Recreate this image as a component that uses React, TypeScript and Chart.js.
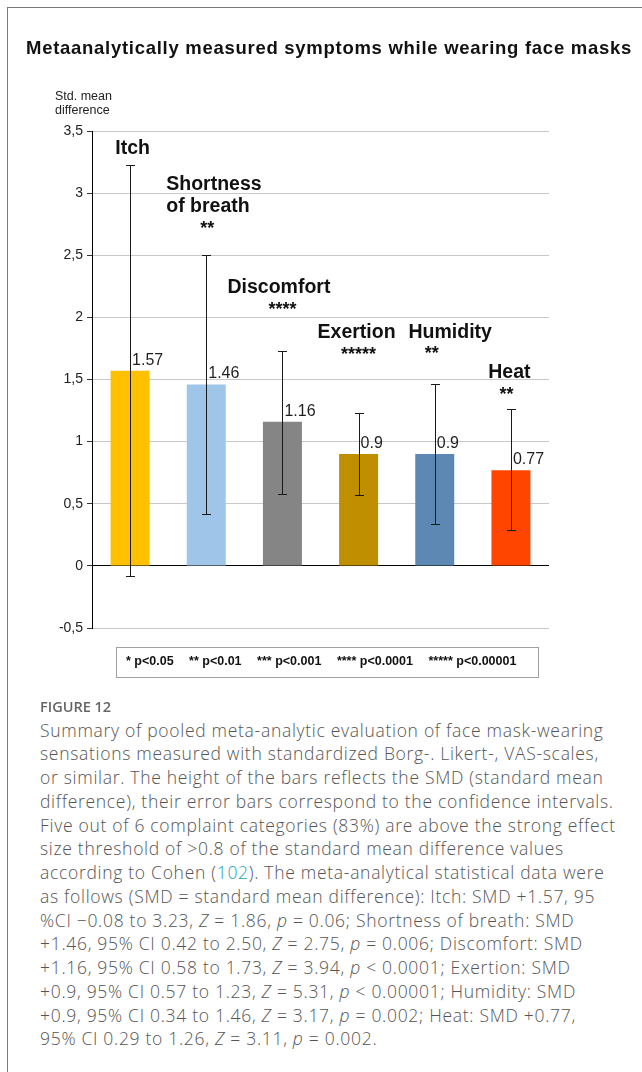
import React, { useEffect, useRef } from "react";
import { Chart, registerables } from "chart.js";

Chart.register(...registerables);

// ---------- data ----------
const categories = ["Itch", "Shortness of breath", "Discomfort", "Exertion", "Humidity", "Heat"];
const categoryLines = [["Itch"], ["Shortness", "of breath"], ["Discomfort"], ["Exertion"], ["Humidity"], ["Heat"]];
const smd = [1.57, 1.46, 1.16, 0.9, 0.9, 0.77];
const ciLow = [-0.08, 0.42, 0.58, 0.57, 0.34, 0.29];
const ciHigh = [3.23, 2.5, 1.73, 1.23, 1.46, 1.26];
const valueLabels = ["1.57", "1.46", "1.16", "0.9", "0.9", "0.77"];
const significance = ["", "**", "****", "*****", "**", "**"];
const yTickLabels = ["-0,5", "0", "0,5", "1", "1,5", "2", "2,5", "3", "3,5"];
const legendItems = ["* p<0.05", "** p<0.01", "*** p<0.001", "**** p<0.0001", "***** p<0.00001"];

// ---------- styles ----------
const barColors = ["#FFC000", "#9FC5E8", "#858585", "#BF8F00", "#5E88B4", "#FF4500"];
// annotation placement (offset from category centre in px, vertical anchor in axis units)
const nameLayout = [
  { dx: 2.5, v: 3.315, align: "center" },
  { dx: -40, v: 3.025, align: "left" },
  { dx: -3.5, v: 2.196, align: "center" },
  { dx: -2, v: 1.834, align: "center" },
  { dx: 15.5, v: 1.834, align: "center" },
  { dx: -1.5, v: 1.512, align: "center" },
];
const starLayout = [
  { dx: 0, v: 0 },
  { dx: 1, v: 2.671 },
  { dx: 0, v: 2.019 },
  { dx: 0, v: 1.657 },
  { dx: -3, v: 1.665 },
  { dx: -4.5, v: 1.336 },
];

const FONT = "'Liberation Sans', Arial, sans-serif";

const annotatePlugin = {
  id: "annotate",
  afterDatasetsDraw(chart: any) {
    const { ctx } = chart;
    const x = chart.scales.x;
    const y = chart.scales.y;
    ctx.save();
    // error bars
    ctx.strokeStyle = "#1a1a1a";
    ctx.lineWidth = 1;
    categories.forEach((_, i) => {
      const cx = Math.round(x.getPixelForValue(i)) + 0.5;
      const yl = Math.round(y.getPixelForValue(ciLow[i])) + 0.5;
      const yh = Math.round(y.getPixelForValue(ciHigh[i])) + 0.5;
      ctx.beginPath();
      ctx.moveTo(cx, yl);
      ctx.lineTo(cx, yh);
      ctx.moveTo(cx - 4.5, yh);
      ctx.lineTo(cx + 4.5, yh);
      ctx.moveTo(cx - 4.5, yl);
      ctx.lineTo(cx + 4.5, yl);
      ctx.stroke();
    });
    // value labels
    ctx.fillStyle = "#1f1f1f";
    ctx.font = `16px ${FONT}`;
    ctx.textAlign = "left";
    ctx.textBaseline = "alphabetic";
    categories.forEach((_, i) => {
      const cx = x.getPixelForValue(i);
      const top = y.getPixelForValue(smd[i]);
      ctx.fillText(valueLabels[i], cx + 2, top - 6);
    });
    // category names
    ctx.fillStyle = "#111";
    ctx.font = `bold 19.5px ${FONT}`;
    categoryLines.forEach((lines, i) => {
      const lay = nameLayout[i];
      const cx = x.getPixelForValue(i) + lay.dx;
      const base = y.getPixelForValue(lay.v);
      ctx.textAlign = lay.align;
      lines.forEach((ln, k) => ctx.fillText(ln, cx, base + k * 22.3));
    });
    // significance stars
    ctx.font = `bold 18px ${FONT}`;
    ctx.textAlign = "center";
    significance.forEach((s, i) => {
      if (!s) return;
      const lay = starLayout[i];
      ctx.fillText(s, x.getPixelForValue(i) + lay.dx, y.getPixelForValue(lay.v));
    });
    ctx.restore();
  },
};

const captionLines: React.ReactNode[] = [
  "Summary of pooled meta-analytic evaluation of face mask-wearing",
  "sensations measured with standardized Borg-. Likert-, VAS-scales,",
  "or similar. The height of the bars reflects the SMD (standard mean",
  "difference), their error bars correspond to the confidence intervals.",
  "Five out of 6 complaint categories (83%) are above the strong effect",
  "size threshold of >0.8 of the standard mean difference values",
  <>according to Cohen (<span style={{ color: "#1aa3b8" }}>102</span>). The meta-analytical statistical data were</>,
  "as follows (SMD = standard mean difference): Itch: SMD +1.57, 95",
  <>%CI −0.08 to 3.23, <i>Z</i> = 1.86, <i>p</i> = 0.06; Shortness of breath: SMD</>,
  <>+1.46, 95% CI 0.42 to 2.50, <i>Z</i> = 2.75, <i>p</i> = 0.006; Discomfort: SMD</>,
  <>+1.16, 95% CI 0.58 to 1.73, <i>Z</i> = 3.94, <i>p</i> &lt; 0.0001; Exertion: SMD</>,
  <>+0.9, 95% CI 0.57 to 1.23, <i>Z</i> = 5.31, <i>p</i> &lt; 0.00001; Humidity: SMD</>,
  <>+0.9, 95% CI 0.34 to 1.46, <i>Z</i> = 3.17, <i>p</i> = 0.002; Heat: SMD +0.77,</>,
  <>95% CI 0.29 to 1.26, <i>Z</i> = 3.11, <i>p</i> = 0.002.</>,
];

export default function App() {
  const canvasRef = useRef<HTMLCanvasElement>(null);

  useEffect(() => {
    if (!canvasRef.current) return;
    const chart = new Chart(canvasRef.current, {
      type: "bar",
      data: {
        labels: categories,
        datasets: [
          {
            data: smd,
            backgroundColor: barColors,
            borderWidth: 0,
            barPercentage: 0.512,
            categoryPercentage: 1,
          },
        ],
      },
      options: {
        responsive: false,
        animation: false,
        devicePixelRatio: 1,
        layout: { padding: { top: 131, bottom: 72, left: 0, right: 93 } },
        plugins: {
          legend: { display: false },
          tooltip: { enabled: false },
          title: { display: false },
        },
        scales: {
          x: { display: false },
          y: {
            min: -0.5,
            max: 3.5,
            ticks: {
              stepSize: 0.5,
              padding: 4,
              color: "#222",
              font: { family: FONT, size: 14 },
              callback: (_v: any, i: number) => yTickLabels[i],
            },
            grid: {
              color: (c: any) => (c.tick && c.tick.value === 0 ? "#000" : "#c8c8c8"),
              tickColor: "#333",
              tickLength: 5,
            },
            border: { color: "#000", width: 1 },
            afterFit: (s: any) => {
              s.width = 92;
            },
          },
        },
      } as any,
      plugins: [annotatePlugin as any],
    });
    return () => chart.destroy();
  }, []);

  return (
    <div style={{ position: "absolute", left: 0, top: 0, width: 642, height: 1072, overflow: "hidden", background: "#fff" }}>
      <div
        style={{
          position: "absolute",
          left: 7,
          top: 7,
          width: 700,
          height: 1100,
          borderLeft: "1px solid #7a7a7a",
          borderTop: "1px solid #7a7a7a",
        }}
      />
      <canvas
        ref={canvasRef}
        width={642}
        height={700}
        style={{ position: "absolute", left: 0, top: 0, width: 642, height: 700 }}
      />
      <div
        style={{
          position: "absolute",
          left: 26,
          top: 38,
          whiteSpace: "nowrap",
          font: `bold 18.5px/20px ${FONT}`,
          letterSpacing: "0.72px",
          color: "#111",
        }}
      >
        Metaanalytically measured symptoms while wearing face masks
      </div>
      <div
        style={{
          position: "absolute",
          left: 55,
          top: 88.7,
          font: `12.5px/14px ${FONT}`,
          color: "#222",
          whiteSpace: "nowrap",
        }}
      >
        Std. mean
        <br />
        difference
      </div>
      <div
        style={{
          position: "absolute",
          left: 116,
          top: 647,
          width: 423,
          height: 31,
          boxSizing: "border-box",
          border: "1px solid #a0a0a0",
          display: "flex",
          gap: 15.5,
          paddingLeft: 9,
          font: `bold 12.5px/26px ${FONT}`,
          color: "#111",
          whiteSpace: "nowrap",
        }}
      >
        {legendItems.map((t) => (
          <span key={t}>{t}</span>
        ))}
      </div>
      <div
        style={{
          position: "absolute",
          left: 40,
          top: 699,
          font: `600 14.5px/16px 'Open Sans', sans-serif`,
          color: "#666",
          whiteSpace: "nowrap",
        }}
      >
        FIGURE 12
      </div>
      <div
        style={{
          position: "absolute",
          left: 40,
          top: 718.5,
          font: `300 17.5px/23.75px 'Open Sans', sans-serif`,
          letterSpacing: "0.7px",
          color: "#555",
          whiteSpace: "nowrap",
        }}
      >
        {captionLines.map((ln, i) => (
          <div key={i}>{ln}</div>
        ))}
      </div>
    </div>
  );
}
